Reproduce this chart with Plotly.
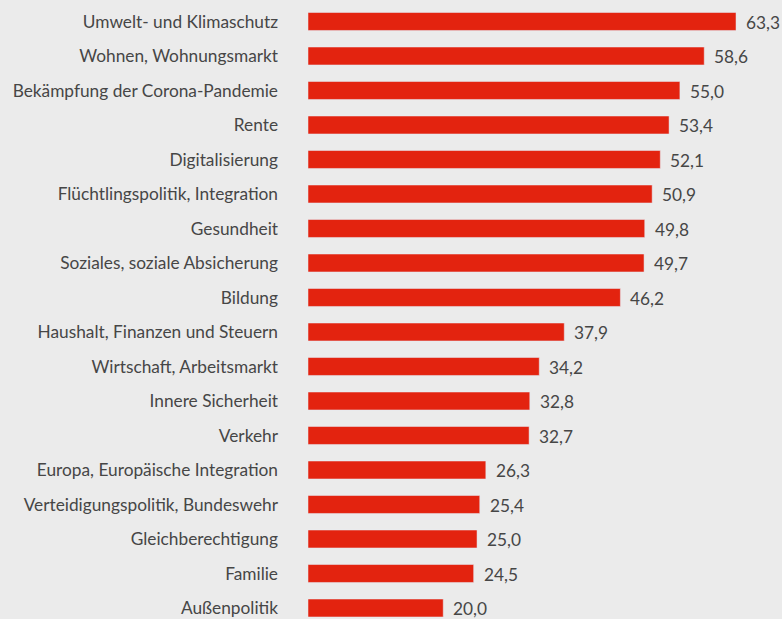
import plotly.graph_objects as go

# Themen und Werte (von oben nach unten)
themen = [
    "Umwelt- und Klimaschutz",
    "Wohnen, Wohnungsmarkt",
    "Bekämpfung der Corona-Pandemie",
    "Rente",
    "Digitalisierung",
    "Flüchtlingspolitik, Integration",
    "Gesundheit",
    "Soziales, soziale Absicherung",
    "Bildung",
    "Haushalt, Finanzen und Steuern",
    "Wirtschaft, Arbeitsmarkt",
    "Innere Sicherheit",
    "Verkehr",
    "Europa, Europäische Integration",
    "Verteidigungspolitik, Bundeswehr",
    "Gleichberechtigung",
    "Familie",
    "Außenpolitik",
]
werte = [63.3, 58.6, 55.0, 53.4, 52.1, 50.9, 49.8, 49.7, 46.2,
         37.9, 34.2, 32.8, 32.7, 26.3, 25.4, 25.0, 24.5, 20.0]

BAR_COLOR = "#e3230f"
BG = "#ebebeb"
TEXT = "#464646"
FS = 17.3

fig = go.Figure(go.Bar(
    x=werte,
    y=themen,
    orientation="h",
    marker_color=BAR_COLOR,
    width=0.52,
    hoverinfo="skip",
))

# Wertebeschriftungen rechts neben den Balken
for t, v in zip(themen, werte):
    fig.add_annotation(
        x=v, y=t,
        text=f"{v:.1f}".replace(".", ","),
        showarrow=False,
        xanchor="left",
        xshift=8,
        yshift=-1,
        font=dict(family="Lato", size=FS, color=TEXT),
    )

fig.update_layout(
    width=782,
    height=619,
    margin=dict(l=308, r=0, t=0, b=0),
    plot_bgcolor=BG,
    paper_bgcolor=BG,
    showlegend=False,
    font=dict(family="Lato", size=FS, color=TEXT),
)
fig.update_xaxes(range=[0, 70.1], visible=False)
fig.update_yaxes(
    range=[17.319, -0.623],
    showgrid=False,
    zeroline=False,
    showline=False,
    ticks="",
    ticklabelstandoff=29,
    tickfont=dict(family="Lato", size=FS, color=TEXT),
)

fig.write_html(
    "out.html",
    config={"displayModeBar": False},
    post_script="document.body.style.margin='0';",
)
